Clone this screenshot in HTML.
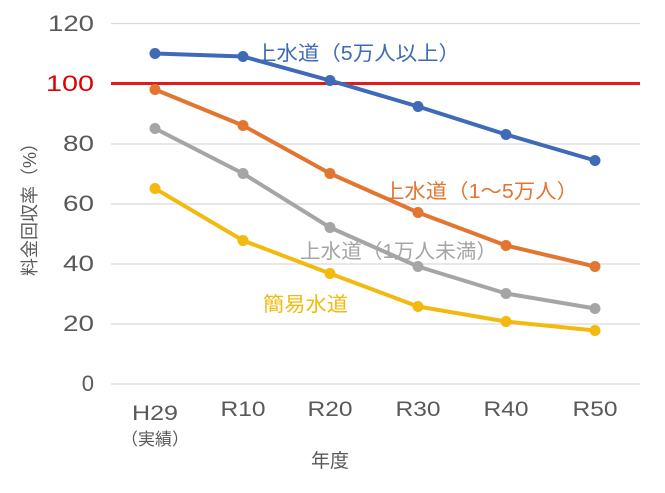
<!DOCTYPE html>
<html><head><meta charset="utf-8"><style>
html,body{margin:0;padding:0;background:#fff}
svg{display:block}
text{font-family:"Liberation Sans","Noto Sans CJK JP",sans-serif}
</style></head><body>
<svg width="665" height="493" viewBox="0 0 665 493">
<g stroke="#d9d9d9" stroke-width="1.3">
<line x1="111" y1="23.5" x2="640" y2="23.5"/>
<line x1="111" y1="144" x2="640" y2="144"/>
<line x1="111" y1="204" x2="640" y2="204"/>
<line x1="111" y1="264" x2="640" y2="264"/>
<line x1="111" y1="324" x2="640" y2="324"/>
<line x1="111" y1="384" x2="640" y2="384"/>
</g>
<g font-size="22" fill="#595959" text-anchor="end" lengthAdjust="spacingAndGlyphs">
<text x="94" y="31" textLength="46" lengthAdjust="spacingAndGlyphs">120</text>
<text x="94" y="91" fill="#e00000" textLength="48" lengthAdjust="spacingAndGlyphs">100</text>
<text x="94" y="151" textLength="31" lengthAdjust="spacingAndGlyphs">80</text>
<text x="94" y="211" textLength="31" lengthAdjust="spacingAndGlyphs">60</text>
<text x="94" y="271" textLength="31" lengthAdjust="spacingAndGlyphs">40</text>
<text x="94" y="331" textLength="31" lengthAdjust="spacingAndGlyphs">20</text>
<text x="94" y="391">0</text>
</g>
<g font-size="21" fill="#595959" text-anchor="middle">
<text x="155" y="420" textLength="46" lengthAdjust="spacingAndGlyphs">H29</text>
<text x="243" y="416" textLength="45" lengthAdjust="spacingAndGlyphs">R10</text>
<text x="330" y="416" textLength="45" lengthAdjust="spacingAndGlyphs">R20</text>
<text x="418" y="416" textLength="45" lengthAdjust="spacingAndGlyphs">R30</text>
<text x="506" y="416" textLength="45" lengthAdjust="spacingAndGlyphs">R40</text>
<text x="595" y="416" textLength="45" lengthAdjust="spacingAndGlyphs">R50</text>
<text x="155" y="445" font-size="17">（実績）</text>
<text x="330" y="467" font-size="19">年度</text>
</g>
<text transform="translate(36,205) rotate(-90)" font-size="18" fill="#595959" text-anchor="middle">料金回収率（%）</text>
<g fill="none" stroke-width="4" stroke-linejoin="round">
<polyline stroke="#f2b90f" points="155,188.5 243,240.5 330,273.5 418,306.5 506,321.5 595,330.5"/>
<polyline stroke="#a5a5a5" points="155,128.5 243,173.5 330,227.5 418,266.5 506,293.5 595,308.5"/>
<polyline stroke="#e2752f" points="155,89.5 243,125.5 330,173.5 418,212.5 506,245.5 595,266.5"/>
<line x1="111" y1="83.5" x2="640" y2="83.5" stroke="#e41a1a" stroke-width="3"/>
<polyline stroke="#3f6ab8" points="155,53.5 243,56.5 330,80.5 418,106.5 506,134.5 595,160.5"/>
</g>
<g fill="#f2b90f"><circle cx="155" cy="188.5" r="5.5"/><circle cx="243" cy="240.5" r="5.5"/><circle cx="330" cy="273.5" r="5.5"/><circle cx="418" cy="306.5" r="5.5"/><circle cx="506" cy="321.5" r="5.5"/><circle cx="595" cy="330.5" r="5.5"/></g>
<g fill="#a5a5a5"><circle cx="155" cy="128.5" r="5.5"/><circle cx="243" cy="173.5" r="5.5"/><circle cx="330" cy="227.5" r="5.5"/><circle cx="418" cy="266.5" r="5.5"/><circle cx="506" cy="293.5" r="5.5"/><circle cx="595" cy="308.5" r="5.5"/></g>
<g fill="#e2752f"><circle cx="155" cy="89.5" r="5.5"/><circle cx="243" cy="125.5" r="5.5"/><circle cx="330" cy="173.5" r="5.5"/><circle cx="418" cy="212.5" r="5.5"/><circle cx="506" cy="245.5" r="5.5"/><circle cx="595" cy="266.5" r="5.5"/></g>
<g fill="#3f6ab8"><circle cx="155" cy="53.5" r="5.5"/><circle cx="243" cy="56.5" r="5.5"/><circle cx="330" cy="80.5" r="5.5"/><circle cx="418" cy="106.5" r="5.5"/><circle cx="506" cy="134.5" r="5.5"/><circle cx="595" cy="160.5" r="5.5"/></g>
<g font-size="20">
<text x="255" y="60" fill="#3f6ab8" textLength="205" lengthAdjust="spacingAndGlyphs">上水道（5万人以上）</text>
<text x="383" y="198" fill="#e2752f" textLength="195" lengthAdjust="spacingAndGlyphs">上水道（1～5万人）</text>
<text x="300" y="258" fill="#a5a5a5" textLength="197" lengthAdjust="spacingAndGlyphs">上水道（1万人未満）</text>
<text x="263" y="311" fill="#f2b90f" textLength="85" lengthAdjust="spacingAndGlyphs">簡易水道</text>
</g>
</svg>
</body></html>
